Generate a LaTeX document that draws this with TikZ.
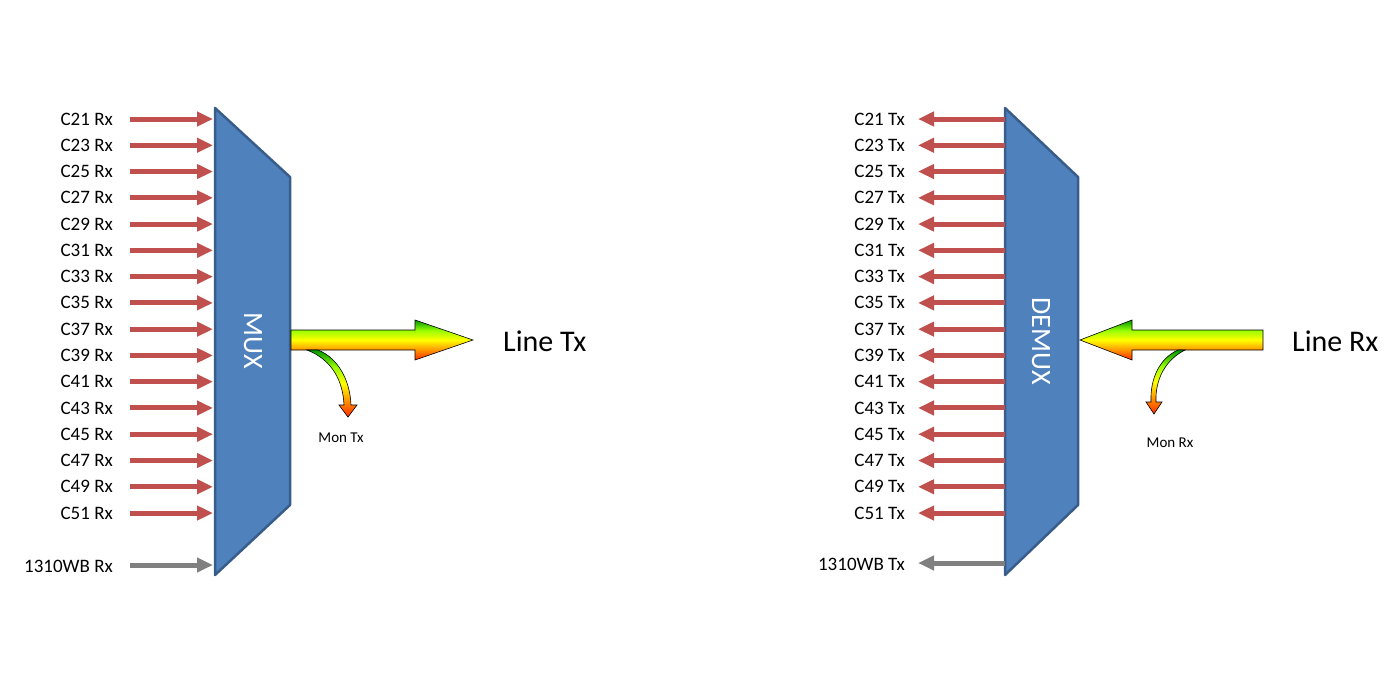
\documentclass[tikz,border=0pt]{standalone}
\usepackage{fontspec}
\setmainfont{Carlito}
\usetikzlibrary{arrows.meta}
\definecolor{boxfill}{HTML}{4F81BD}
\definecolor{boxline}{HTML}{385D8A}
\definecolor{chred}{HTML}{C0504D}
\definecolor{chgray}{HTML}{808080}
\pgfdeclareverticalshading{rainbow}{100bp}{color(0bp)=(magenta!80!red); color(20bp)=(red); color(35bp)=(orange); color(50bp)=(yellow); color(62bp)=(yellow!60!green); color(75bp)=(green!60!black); color(100bp)=(blue)}
\tikzset{
  muxbox/.style={fill=boxfill,draw=boxline,line width=2.5pt,line join=round},
  lbl/.style={font=\fontsize{19}{22}\selectfont,inner sep=0pt},
  chan/.style={draw=chred,line width=5pt,-{Triangle[length=16pt,width=14pt]}},
  wb/.style={draw=chgray,line width=5pt,-{Triangle[length=16pt,width=14pt]}},
  rain/.style={shading=rainbow,draw=black,line width=0.6pt,line join=miter},
  big/.style={font=\fontsize{30}{34}\selectfont,inner sep=0pt},
  small/.style={font=\fontsize{15}{18}\selectfont,inner sep=0pt}
}
\begin{document}
\begin{tikzpicture}[x=1pt,y=-1pt]
\useasboundingbox (0,0) rectangle (1400,681);
% boxes
\draw[muxbox] (215,108) -- (290,177) -- (290,505) -- (215,575) -- cycle;
\draw[muxbox] (1005,108) -- (1078,177) -- (1078,505) -- (1005,575) -- cycle;
\node[font=\fontsize{28}{32}\selectfont,text=white,rotate=-90] (mux) at (253,341) {MUX};
\node[font=\fontsize{28}{32}\selectfont,text=white,rotate=-90] (demux) at (1041,341) {DEMUX};
% channels
\foreach \c [count=\i from 0] in {21,23,25,27,29,31,33,35,37,39,41,43,45,47,49,51}{
  \pgfmathsetmacro\yy{119+26.27*\i}
  \node[lbl,anchor=east] (rx\c) at (113,\yy) {C\c{} Rx};
  \coordinate (ri\c) at (213,\yy);
  \draw[chan] (130,\yy) coordinate (rs\c) -- (ri\c);
  \node[lbl,anchor=east] (tx\c) at (905,\yy) {C\c{} Tx};
  \coordinate (ts\c) at (1005,\yy);
  \draw[chan] (ts\c) -- (918,\yy);
}
\node[lbl,anchor=east] (wbrx) at (113,566) {1310WB Rx};
\coordinate (wbrs) at (130,565); \coordinate (wbre) at (213,565);
\draw[wb] (wbrs) -- (wbre);
\node[lbl,anchor=east] (wbtx) at (905,564) {1310WB Tx};
\coordinate (wbts) at (1005,563); \coordinate (wbte) at (918,563);
\draw[wb] (wbts) -- (wbte);
% MUX line arrow
\path[rain] (291,330) -- (415,330) -- (415,320) -- (473,340) -- (415,360) -- (415,350) -- (291,350) -- cycle;
\path[rain] (318,350) .. controls (338,358) and (350,380) .. (351,405) -- (357,405) -- (348,417) -- (339,405) -- (344,405) .. controls (343,382) and (333,360) .. (307,350) -- cycle;
\node[big,anchor=west] (linetx) at (503,341) {Line Tx};
\node[small] (montx) at (341,438) {Mon Tx};
% DEMUX line arrow
\path[rain] (1263,330) -- (1132,330) -- (1132,320) -- (1080,340) -- (1132,360) -- (1132,350) -- (1263,350) -- cycle;
\path[rain] (1185,350) .. controls (1165,360) and (1155,380) .. (1156,402) -- (1162,402) -- (1154,414) -- (1146,402) -- (1151,402) .. controls (1150,378) and (1160,358) .. (1178,350) -- cycle;
\node[big,anchor=west] (linerx) at (1292,341) {Line Rx};
\node[small] (monrx) at (1170,443) {Mon Rx};
\end{tikzpicture}
\end{document}
